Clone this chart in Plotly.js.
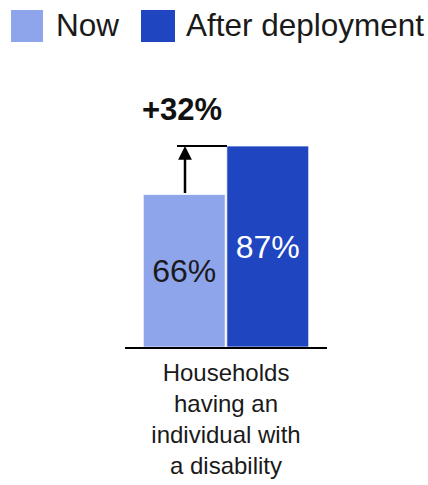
<!DOCTYPE html>
<html>
<head>
<meta charset="utf-8">
<script src="https://cdn.plot.ly/plotly-3.0.1.min.js"></script>
<style>html,body{margin:0;padding:0;background:#fff;}#chart{width:428px;height:485px;}</style>
</head>
<body>
<div id="chart"></div>
<script>
// ---- data ----
const categories = ["Households<br>having an<br>individual with<br>a disability"];
const seriesNames = ["Now", "After deployment"];
const nowValues = [66];
const afterValues = [87];
const changeLabel = "+32%";
const seriesColors = ["#8ea5ec", "#1f45c0"];

// ---- layout geometry (pixels) ----
const W = 428, H = 485;
const M = {l: 125, r: 101, t: 116, b: 138};
const pw = W - M.l - M.r, ph = H - M.t - M.b;
const px = x => (x - M.l) / pw;
const py = y => (H - M.b - y) / ph;
const FONT = "Arial, 'Liberation Sans', sans-serif";

const fmt = v => v + "%";

const traces = [
  {
    type: "bar", name: seriesNames[0], x: categories, y: nowValues,
    marker: {color: seriesColors[0], line: {color: "rgba(255,255,255,0.7)", width: 1}},
    text: nowValues.map(fmt), textposition: "inside", insidetextanchor: "middle",
    textfont: {family: FONT, size: 32, color: "#1a1a1a"}, hoverinfo: "none", showlegend: false
  },
  {
    type: "bar", name: seriesNames[1], x: categories, y: afterValues,
    marker: {color: seriesColors[1], line: {color: "rgba(255,255,255,0.7)", width: 1}},
    text: afterValues.map(fmt), textposition: "inside", insidetextanchor: "middle",
    textfont: {family: FONT, size: 32, color: "#ffffff"}, hoverinfo: "none", showlegend: false
  }
];

const arrowX = px(185);
const shapes = [
  // legend swatches
  {type: "rect", xref: "paper", yref: "paper", x0: px(11), x1: px(43), y0: py(42), y1: py(10),
   fillcolor: seriesColors[0], line: {width: 0}},
  {type: "rect", xref: "paper", yref: "paper", x0: px(141), x1: px(175), y0: py(42), y1: py(10),
   fillcolor: seriesColors[1], line: {width: 0}},
  // horizontal line at top of "after" bar
  {type: "line", xref: "paper", yref: "y", x0: px(177), x1: px(227), y0: afterValues[0], y1: afterValues[0],
   line: {color: "#000", width: 2}}
];

const annotations = [
  {xref: "paper", yref: "paper", x: px(54), y: py(25), xanchor: "left", yanchor: "middle",
   text: seriesNames[0], showarrow: false, font: {family: FONT, size: 31.5, color: "#1a1a1a"}},
  {xref: "paper", yref: "paper", x: px(184), y: py(25), xanchor: "left", yanchor: "middle",
   text: seriesNames[1], showarrow: false, font: {family: FONT, size: 31.5, color: "#1a1a1a"}},
  // arrow from now to after
  {xref: "paper", yref: "y", x: arrowX, y: afterValues[0], axref: "pixel", ayref: "y", ax: 0, ay: nowValues[0],
   showarrow: true, arrowhead: 2, arrowsize: 1.1, arrowwidth: 2.5, arrowcolor: "#000", text: "", standoff: 0},
  {xref: "paper", yref: "paper", x: px(182), y: py(109), xanchor: "center", yanchor: "middle",
   text: "<b>" + changeLabel + "</b>", showarrow: false, font: {family: FONT, size: 31, color: "#111"}}
];

const layout = {
  width: W, height: H,
  margin: M,
  paper_bgcolor: "#fff", plot_bgcolor: "#fff",
  barmode: "group", bargap: 0.173, bargroupgap: 0.02,
  showlegend: false,
  xaxis: {
    type: "category", showline: true, linecolor: "#000", linewidth: 2,
    showgrid: false, zeroline: false, ticks: "", ticklabelstandoff: 3,
    tickfont: {family: FONT, size: 24, color: "#1a1a1a"}, fixedrange: true
  },
  yaxis: {range: [0, 100], visible: false, showgrid: false, zeroline: false, fixedrange: true},
  shapes: shapes,
  annotations: annotations,
  font: {family: FONT}
};

Plotly.newPlot("chart", traces, layout, {displayModeBar: false, staticPlot: true});
</script>
</body>
</html>
